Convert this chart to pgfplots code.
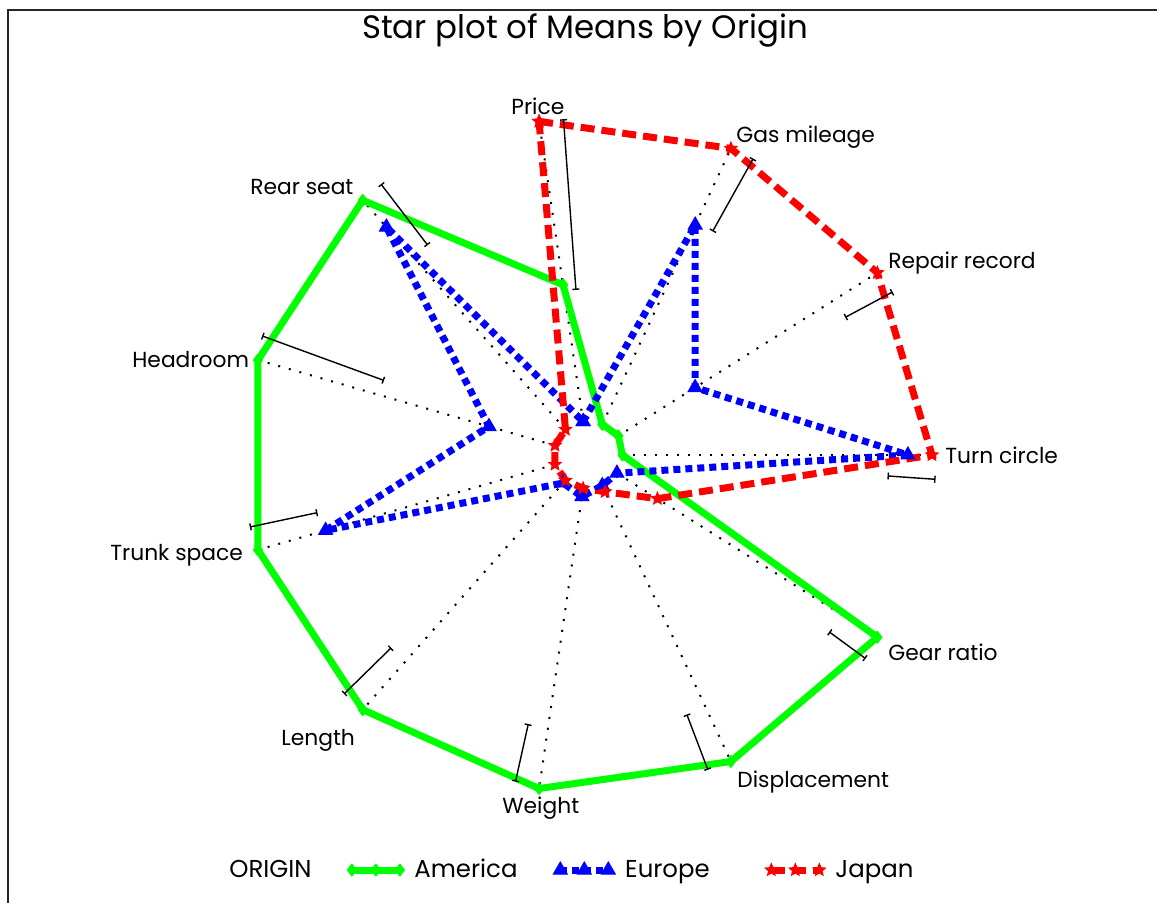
\documentclass[border=0pt]{standalone}
\usepackage{fontspec}
\setmainfont{Poppins}
\usepackage{pgfplots}
\pgfplotsset{compat=1.18}
\usetikzlibrary{arrows.meta}
\definecolor{amer}{RGB}{0,255,0}
\definecolor{euro}{RGB}{0,0,255}
\definecolor{japn}{RGB}{255,0,0}
\pgfdeclareplotmark{fstar}{%
  \pgfpathmoveto{\pgfpointpolar{90}{\pgfplotmarksize}}%
  \pgfpathlineto{\pgfpointpolar{126}{0.45\pgfplotmarksize}}%
  \pgfpathlineto{\pgfpointpolar{162}{\pgfplotmarksize}}%
  \pgfpathlineto{\pgfpointpolar{198}{0.45\pgfplotmarksize}}%
  \pgfpathlineto{\pgfpointpolar{234}{\pgfplotmarksize}}%
  \pgfpathlineto{\pgfpointpolar{270}{0.45\pgfplotmarksize}}%
  \pgfpathlineto{\pgfpointpolar{306}{\pgfplotmarksize}}%
  \pgfpathlineto{\pgfpointpolar{342}{0.45\pgfplotmarksize}}%
  \pgfpathlineto{\pgfpointpolar{18}{\pgfplotmarksize}}%
  \pgfpathlineto{\pgfpointpolar{54}{0.45\pgfplotmarksize}}%
  \pgfpathclose
  \pgfusepathqfillstroke
}
\begin{document}
\begin{tikzpicture}
\begin{axis}[
  at={(0pt,0pt)}, anchor=south west,
  scale only axis, width=578.5pt, height=451.5pt,
  xmin=-170.93, xmax=165.41, ymin=-132.94, ymax=135.01,
  hide axis, clip=false,
  data cs=polar,
  legend columns=-1,
  legend style={draw=none, fill=none, inner sep=0pt,
    at={(rel axis cs:0.2999,0.0365)}, anchor=west,
    font=\fontsize{12.2}{14}\selectfont,
    nodes={inner sep=0pt},
    /tikz/column sep=0pt},
  legend image code/.code={\draw[mark repeat=1,mark phase=1,#1] plot coordinates {(0pt,0pt) (12pt,0pt) (24pt,0pt)};},
]
% spokes
\addplot[black, line width=1pt, dash pattern=on 1pt off 4.5pt, forget plot] coordinates {(98.18,10) (98.18,100)};
\addplot[black, line width=1pt, dash pattern=on 1pt off 4.5pt, forget plot] coordinates {(65.45,10) (65.45,100)};
\addplot[black, line width=1pt, dash pattern=on 1pt off 4.5pt, forget plot] coordinates {(32.73,10) (32.73,100)};
\addplot[black, line width=1pt, dash pattern=on 1pt off 4.5pt, forget plot] coordinates {(0,10) (0,100)};
\addplot[black, line width=1pt, dash pattern=on 1pt off 4.5pt, forget plot] coordinates {(-32.73,10) (-32.73,100)};
\addplot[black, line width=1pt, dash pattern=on 1pt off 4.5pt, forget plot] coordinates {(-65.45,10) (-65.45,100)};
\addplot[black, line width=1pt, dash pattern=on 1pt off 4.5pt, forget plot] coordinates {(-98.18,10) (-98.18,100)};
\addplot[black, line width=1pt, dash pattern=on 1pt off 4.5pt, forget plot] coordinates {(-130.91,10) (-130.91,100)};
\addplot[black, line width=1pt, dash pattern=on 1pt off 4.5pt, forget plot] coordinates {(-163.64,10) (-163.64,100)};
\addplot[black, line width=1pt, dash pattern=on 1pt off 4.5pt, forget plot] coordinates {(163.64,10) (163.64,100)};
\addplot[black, line width=1pt, dash pattern=on 1pt off 4.5pt, forget plot] coordinates {(130.91,10) (130.91,100)};
% series
\addplot[amer, line width=3.5pt, line join=round, mark=diamond*, mark size=3pt, mark options={solid, line width=0.5pt}] coordinates {
(98.18,51) (65.45,10) (32.73,10.5) (0,10) (-32.73,100) (-65.45,100) (-98.18,100) (-130.91,100) (-163.64,100) (-196.36,100) (-229.09,100) (-261.82,51)};
\addlegendentry{\hspace{5pt}\makebox[69.5pt][l]{America}}
\addplot[euro, line width=3.5pt, dash pattern=on 3.5pt off 2.5pt, mark=triangle*, mark size=4pt, mark options={solid, line width=0.5pt}] coordinates {
(98.18,10) (65.45,75) (32.73,37) (0,93) (-32.73,10) (-65.45,10) (-98.18,12.5) (-130.91,11) (-163.64,79.5) (-196.36,30) (-229.09,89.5) (-261.82,10)};
\addlegendentry{\hspace{5pt}\makebox[70pt][l]{Europe}}
\addplot[japn, line width=3.5pt, dash pattern=on 7pt off 3.5pt, mark=fstar, mark size=3.2pt, mark options={solid, line width=0.5pt}] coordinates {
(98.18,100) (65.45,100) (32.73,100) (0,100) (-32.73,24) (-65.45,12) (-98.18,10) (-130.91,10) (-163.64,10) (-196.36,10) (-229.09,10) (-261.82,100)};
\addlegendentry{\hspace{5pt}Japan}
% range bars
\addplot[black, line width=0.7pt, {Bar[width=3.5pt]}-{Bar[width=3.5pt]}, forget plot] coordinates {(94.09,49.1) (94.09,99.9)};
\addplot[black, line width=0.7pt, {Bar[width=3.5pt]}-{Bar[width=3.5pt]}, forget plot] coordinates {(61.36,75.6) (61.36,100.2)};
\addplot[black, line width=0.7pt, {Bar[width=3.5pt]}-{Bar[width=3.5pt]}, forget plot] coordinates {(28.64,85.2) (28.64,100.9)};
\addplot[black, line width=0.7pt, {Bar[width=3.5pt]}-{Bar[width=3.5pt]}, forget plot] coordinates {(-4.09,87.3) (-4.09,101.3)};
\addplot[black, line width=0.7pt, {Bar[width=3.5pt]}-{Bar[width=3.5pt]}, forget plot] coordinates {(-36.82,87.6) (-36.82,100.8)};
\addplot[black, line width=0.7pt, {Bar[width=3.5pt]}-{Bar[width=3.5pt]}, forget plot] coordinates {(-69.54,82.2) (-69.54,99.7)};
\addplot[black, line width=0.7pt, {Bar[width=3.5pt]}-{Bar[width=3.5pt]}, forget plot] coordinates {(-102.27,81.7) (-102.27,99.2)};
\addplot[black, line width=0.7pt, {Bar[width=3.5pt]}-{Bar[width=3.5pt]}, forget plot] coordinates {(-135.0,80.9) (-135.0,100.3)};
\addplot[black, line width=0.7pt, {Bar[width=3.5pt]}-{Bar[width=3.5pt]}, forget plot] coordinates {(-167.73,80.5) (-167.73,100.6)};
\addplot[black, line width=0.7pt, {Bar[width=3.5pt]}-{Bar[width=3.5pt]}, forget plot] coordinates {(159.55,63.3) (159.55,101.1)};
\addplot[black, line width=0.7pt, {Bar[width=3.5pt]}-{Bar[width=3.5pt]}, forget plot] coordinates {(126.82,77.8) (126.82,100.4)};
\end{axis}
\begin{scope}[x=0.5pt,y=-0.5pt,shift={(0pt,451.5pt)}]
\draw[line width=0.75pt, black!85] (8,903) -- (8,10) -- (1157,10);
\node[anchor=base, inner sep=0pt, font=\fontsize{16.2}{19}\selectfont] at (585,39) {Star plot of Means by Origin};
\begin{scope}[every node/.style={anchor=base west, inner sep=0pt, font=\fontsize{10.9}{13}\selectfont}]
\node at (511,115) {Price};
\node at (736,143) {Gas mileage};
\node at (888,269) {Repair record};
\node at (945,464) {Turn circle};
\node at (888,661) {Gear ratio};
\node at (737,788) {Displacement};
\node at (502,814) {Weight};
\node at (281,746) {Length};
\node at (110,561) {Trunk space};
\node at (132,368) {Headroom};
\node at (250,195) {Rear seat};
\end{scope}
\node[anchor=base west, inner sep=0pt, font=\fontsize{12.2}{14}\selectfont] at (229,878) {ORIGIN};
\end{scope}
\pgfresetboundingbox
\path[use as bounding box] (0pt,0pt) rectangle (578.5pt,451.5pt);
\end{tikzpicture}
\end{document}
